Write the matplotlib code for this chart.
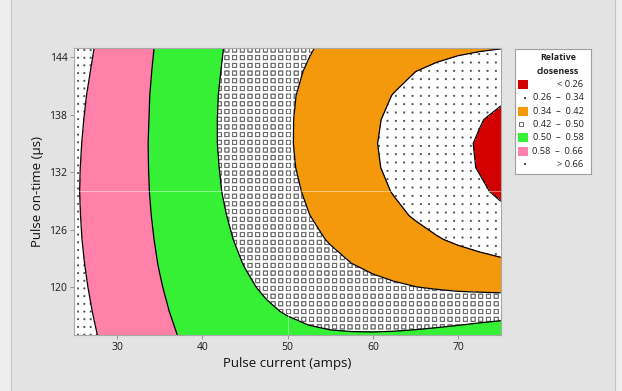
import numpy as np
import matplotlib
matplotlib.use("Agg")
import matplotlib.pyplot as plt
import matplotlib.hatch as mhatch
from matplotlib.path import Path
from matplotlib.patches import Rectangle

plt.rcParams['font.family'] = ['Open Sans', 'DejaVu Sans']
plt.rcParams['hatch.color'] = '#474747'
plt.rcParams['hatch.linewidth'] = 0.45

# ---- data ----
pulse_current = [25, 27.5, 30, 32.5, 35, 37.5, 40, 42.5, 45, 47.5, 50,
                 52.5, 55, 57.5, 60, 62.5, 65, 67.5, 70, 72.5, 75]
pulse_on_time = [115, 117.5, 120, 122.5, 125, 127.5, 130, 132.5, 135,
                 137.5, 140, 142.5, 145]
# relative closeness x1000, rows = on-time (bottom to top), cols = current
closeness_x1000 = [
    [687, 662, 638, 616, 595, 577, 561, 546, 534, 524, 516, 510, 506, 505, 505, 507, 511, 517, 525, 535, 546],
    [681, 656, 632, 610, 589, 569, 551, 535, 520, 507, 496, 486, 479, 472, 468, 465, 463, 463, 464, 467, 470],
    [676, 651, 627, 605, 583, 563, 543, 525, 508, 493, 479, 466, 454, 444, 435, 428, 421, 416, 411, 408, 405],
    [672, 647, 624, 600, 578, 557, 536, 516, 498, 480, 464, 448, 434, 420, 408, 396, 386, 376, 367, 359, 351],
    [669, 644, 621, 597, 574, 552, 530, 509, 489, 469, 451, 433, 416, 400, 385, 371, 357, 344, 331, 319, 307],
    [667, 643, 618, 594, 571, 548, 525, 503, 482, 461, 441, 421, 403, 385, 367, 351, 335, 319, 303, 288, 273],
    [666, 642, 617, 593, 568, 545, 521, 498, 476, 454, 433, 413, 393, 373, 355, 337, 319, 302, 285, 268, 251],
    [667, 642, 617, 592, 567, 543, 519, 495, 472, 450, 428, 407, 386, 366, 347, 328, 310, 292, 274, 257, 239],
    [669, 643, 617, 592, 566, 542, 517, 493, 470, 448, 426, 404, 384, 364, 344, 326, 307, 290, 272, 255, 238],
    [672, 645, 619, 593, 567, 542, 517, 493, 470, 447, 426, 405, 385, 365, 347, 329, 312, 295, 279, 263, 248],
    [676, 648, 621, 594, 568, 543, 518, 494, 471, 449, 428, 408, 389, 371, 354, 338, 323, 308, 294, 281, 269],
    [681, 653, 624, 597, 570, 545, 520, 497, 474, 453, 433, 415, 397, 381, 366, 353, 340, 329, 318, 309, 300],
    [688, 658, 628, 600, 573, 548, 523, 500, 479, 459, 441, 424, 409, 396, 384, 374, 365, 357, 351, 346, 342],
]
level_edges = [0.26, 0.34, 0.42, 0.50, 0.58, 0.66]
legend_labels = ['< 0.26', '0.26  \u2013  0.34', '0.34  \u2013  0.42', '0.42  \u2013  0.50',
                 '0.50  \u2013  0.58', '0.58  \u2013  0.66', '> 0.66']
band_colors = ['#d20000', 'white', '#f4990c', 'white', '#36f036', '#ff80a8', 'white']
band_hatches = ['', '.', '', 'o', '', '', '..']

MOVE = [Path.MOVETO, Path.LINETO, Path.LINETO, Path.LINETO, Path.CLOSEPOLY]


def square(h):
    return np.array([[-h, -h], [h, -h], [h, h], [-h, h], [-h, -h]])


# minitab-like fill patterns: aligned grids of dots / small open squares
class DotGrid(mhatch.HatchPatternBase):
    def __init__(self, hatch, density):
        k = hatch.count('.')
        self.nx, self.ny = {0: (0, 0), 1: (12, 12)}.get(k, (16, 13))
        self.num_vertices = self.nx * self.ny * 5

    def set_vertices_and_codes(self, vertices, codes):
        sq = square(0.006)
        parts = [sq + [(i + 0.5) / self.nx, (j + 0.5) / self.ny]
                 for i in range(self.nx) for j in range(self.ny)]
        vertices[:] = np.concatenate(parts)
        codes[:] = np.tile(MOVE, self.nx * self.ny)


class SquareGrid(mhatch.HatchPatternBase):
    def __init__(self, hatch, density):
        self.n = 13 if 'o' in hatch else 0
        self.num_vertices = self.n * self.n * 10

    def set_vertices_and_codes(self, vertices, codes):
        ring = np.concatenate([square(0.0225), square(0.0185)[::-1]])
        parts = [ring + [(i + 0.5) / self.n, (j + 0.5) / self.n]
                 for i in range(self.n) for j in range(self.n)]
        vertices[:] = np.concatenate(parts)
        codes[:] = np.tile(MOVE + MOVE, self.n * self.n)


mhatch._hatch_types = [DotGrid, SquareGrid]

z = np.array(closeness_x1000) / 1000.0

W, H = 622, 391
fig = plt.figure(figsize=(W / 100, H / 100), dpi=100, facecolor='#eeeeee')
fig.patches.append(Rectangle((10.5 / W, -0.01), 604 / W, 1.02, transform=fig.transFigure,
                             facecolor='#e3e3e3', edgecolor='#c4c4c4', linewidth=0.8, zorder=-5))

ax = fig.add_axes([74.3 / W, 1 - 335.2 / H, 426.5 / W, 287.5 / H])
levels = [0.0] + level_edges + [1.0]
dot_hatches = [h if h != 'o' else '' for h in band_hatches]
ax.contourf(pulse_current, pulse_on_time, z, levels=levels, colors=band_colors,
            hatches=dot_hatches)
# the open-square band is drawn in a lighter grey, like the original
with plt.rc_context({'hatch.color': '#6e6e6e'}):
    ax.contourf(pulse_current, pulse_on_time, z, levels=level_edges[2:4], colors='none',
                hatches=['o'])
ax.contour(pulse_current, pulse_on_time, z, levels=level_edges, colors='black', linewidths=0.9)
ax.axvline(50, color='white', lw=0.7, alpha=0.45)
ax.axhline(130, color='white', lw=0.7, alpha=0.45)

ax.set_xlim(25, 75)
ax.set_ylim(115, 145)
ax.set_xticks([30, 40, 50, 60, 70])
ax.set_yticks([120, 126, 132, 138, 144])
ax.tick_params(direction='out', length=3, width=0.6, color='#8a8a8a',
               labelsize=7.5, labelcolor='#1a1a1a', pad=2)
for s in ax.spines.values():
    s.set_color('#a8a8a8')
    s.set_linewidth(0.8)
ax.set_xlabel('Pulse current (amps)', fontsize=9.5, color='#111111', labelpad=3)
ax.set_ylabel('Pulse on-time (\u00b5s)', fontsize=9.5, color='#111111', labelpad=4)

# legend panel, drawn in pixel units
lg = fig.add_axes([515 / W, 1 - 174 / H, 76 / W, 125 / H])
lg.set_xlim(515, 591)
lg.set_ylim(174, 49)
lg.set_xticks([])
lg.set_yticks([])
lg.set_facecolor('white')
for s in lg.spines.values():
    s.set_color('#a0a0a0')
    s.set_linewidth(0.8)
lg.text(558, 58, 'Relative', ha='center', va='center', fontsize=6.4, fontweight='bold', color='#222222')
lg.text(558, 71, 'closeness', ha='center', va='center', fontsize=6.4, fontweight='bold', color='#222222')
row_y = 84.5
for lab, col, hat in zip(legend_labels, band_colors, band_hatches):
    if hat == 'o':
        lg.add_patch(Rectangle((518.5, row_y - 2), 4, 4, facecolor='none', edgecolor='#555555', lw=0.6))
        lg.add_patch(Rectangle((524.5, row_y - 2), 0.8, 4, facecolor='#777777', edgecolor='none'))
    elif hat:
        lg.add_patch(Rectangle((523.5, row_y - 1), 2, 2, facecolor='#444444', edgecolor='none'))
    else:
        lg.add_patch(Rectangle((518, row_y - 4.5), 10, 9, facecolor=col, edgecolor='none'))
    lg.text(583.5, row_y, lab, ha='right', va='center', fontsize=6.7, color='#222222')
    row_y += 13.3

fig.savefig('out.png', dpi=100, facecolor=fig.get_facecolor())
